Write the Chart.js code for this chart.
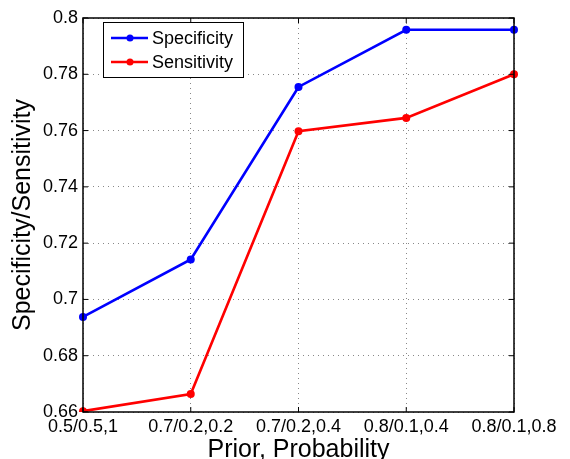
<!DOCTYPE html>
<html>
<head>
<meta charset="utf-8">
<script src="https://cdn.jsdelivr.net/npm/chart.js@4/dist/chart.umd.min.js"></script>
<style>
  body { margin: 0; background: #fff; }
  #wrap { width: 570px; height: 459px; }
</style>
</head>
<body>
<div id="wrap"><canvas id="chart" width="570" height="459"></canvas></div>
<script>
const categories = ["0.5/0.5,1", "0.7/0.2,0.2", "0.7/0.2,0.4", "0.8/0.1,0.4", "0.8/0.1,0.8"];
const specificity = [0.6938, 0.7142, 0.7755, 0.7958, 0.7958];
const sensitivity = [0.6603, 0.6664, 0.7598, 0.7645, 0.7800];
const yTicks = [0.66, 0.68, 0.7, 0.72, 0.74, 0.76, 0.78, 0.8];

const FONT = "'Liberation Sans', Arial, Helvetica, sans-serif";

// box around the plot with inward ticks, like MATLAB axes
const boxPlugin = {
    id: "box",
    afterDatasetsDraw(chart) {
        const { ctx, chartArea: a, scales } = chart;
        ctx.save();
        ctx.strokeStyle = "#000";
        ctx.lineWidth = 1.5;
        ctx.strokeRect(a.left, a.top, a.right - a.left, a.bottom - a.top);
        ctx.lineWidth = 1;
        const len = 5;
        categories.forEach((c, i) => {
            const x = scales.x.getPixelForValue(i);
            ctx.beginPath();
            ctx.moveTo(x, a.bottom); ctx.lineTo(x, a.bottom - len);
            ctx.moveTo(x, a.top); ctx.lineTo(x, a.top + len);
            ctx.stroke();
        });
        yTicks.forEach(v => {
            const y = scales.y.getPixelForValue(v);
            ctx.beginPath();
            ctx.moveTo(a.left, y); ctx.lineTo(a.left + len, y);
            ctx.moveTo(a.right, y); ctx.lineTo(a.right - len, y);
            ctx.stroke();
        });
        // legend box
        const lx = 103, ly = 22, lw = 140, lh = 55;
        ctx.fillStyle = "#fff";
        ctx.fillRect(lx, ly, lw, lh);
        ctx.strokeRect(lx + 0.5, ly + 0.5, lw, lh);
        ctx.font = "18px " + FONT;
        ctx.textBaseline = "middle";
        chart.data.datasets.forEach((ds, i) => {
            const y = ly + 16 + i * 24;
            ctx.strokeStyle = ds.borderColor;
            ctx.lineWidth = 2.5;
            ctx.beginPath();
            ctx.moveTo(lx + 8, y); ctx.lineTo(lx + 45, y);
            ctx.stroke();
            ctx.fillStyle = ds.borderColor;
            ctx.beginPath();
            ctx.arc(lx + 27, y, 3.5, 0, Math.PI * 2);
            ctx.fill();
            ctx.fillStyle = "#000";
            ctx.fillText(ds.label, lx + 49, y + 1);
        });
        ctx.restore();
    }
};

new Chart(document.getElementById("chart").getContext("2d"), {
    type: "line",
    data: {
        labels: categories,
        datasets: [
            { label: "Specificity", data: specificity, borderColor: "#0000ff", backgroundColor: "#0000ff" },
            { label: "Sensitivity", data: sensitivity, borderColor: "#ff0000", backgroundColor: "#ff0000" }
        ]
    },
    options: {
        responsive: false,
        animation: false,
        layout: { padding: { left: 0, top: 18, right: 56, bottom: 0 } },
        elements: {
            line: { borderWidth: 2.6, tension: 0 },
            point: { radius: 4, borderWidth: 0, hoverRadius: 4 }
        },
        plugins: { legend: { display: false }, tooltip: { enabled: false } },
        scales: {
            x: {
                offset: false,
                border: { display: false, dash: [1, 4] },
                grid: { color: "#888", drawTicks: false, lineWidth: 1 },
                ticks: { color: "#000", font: { family: FONT, size: 18 }, padding: 4, maxRotation: 0, autoSkip: false },
                title: { display: true, text: "Prior, Probability", color: "#000", font: { family: FONT, size: 25, lineHeight: 1 }, padding: { top: 0, bottom: -4 } },
                afterFit(scale) { scale.height = 47; }
            },
            y: {
                min: 0.66,
                max: 0.8,
                border: { display: false, dash: [1, 4] },
                grid: { color: "#888", drawTicks: false, lineWidth: 1 },
                afterBuildTicks(scale) { scale.ticks = yTicks.map(v => ({ value: v })); },
                ticks: {
                    color: "#000", font: { family: FONT, size: 18 }, padding: 5,
                    callback: v => String(+v.toFixed(2))
                },
                title: { display: true, text: "Specificity/Sensitivity", color: "#000", font: { family: FONT, size: 25, lineHeight: 1 }, padding: { top: 11, bottom: 0 } },
                afterFit(scale) { scale.width = 83; }
            }
        }
    },
    plugins: [boxPlugin]
});
</script>
</body>
</html>
